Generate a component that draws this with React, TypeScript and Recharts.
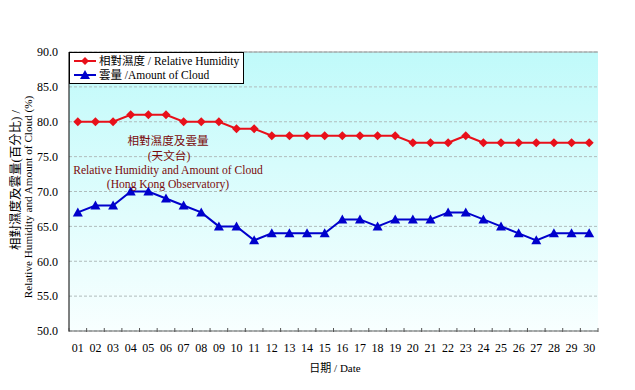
import { LineChart, Line, XAxis, YAxis, CartesianGrid, Legend, ReferenceLine } from 'recharts';

const days = [
  '01', '02', '03', '04', '05', '06', '07', '08', '09', '10',
  '11', '12', '13', '14', '15', '16', '17', '18', '19', '20',
  '21', '22', '23', '24', '25', '26', '27', '28', '29', '30',
];
const humidity = [
  80, 80, 80, 81, 81, 81, 80, 80, 80, 79,
  79, 78, 78, 78, 78, 78, 78, 78, 78, 77,
  77, 77, 78, 77, 77, 77, 77, 77, 77, 77,
];
const cloud = [
  67, 68, 68, 70, 70, 69, 68, 67, 65, 65,
  63, 64, 64, 64, 64, 66, 66, 65, 66, 66,
  66, 67, 67, 66, 65, 64, 63, 64, 64, 64,
];
const yTicks = [50, 55, 60, 65, 70, 75, 80, 85, 90];

const data = days.map((day, i) => ({ day, humidity: humidity[i], cloud: cloud[i] }));

const SERIF = "'Liberation Serif', 'Times New Roman', 'Noto Sans CJK TC', serif";
const RED = '#e8101a';
const BLUE = '#0000cc';
const NOTE = '#7a0a0a';

const diamondPath = (cx: number, cy: number, r = 4.5) =>
  `M${cx},${cy - r} L${cx + r},${cy} L${cx},${cy + r} L${cx - r},${cy} Z`;
const trianglePath = (cx: number, cy: number) =>
  `M${cx},${cy - 5} L${cx + 5},${cy + 4} L${cx - 5},${cy + 4} Z`;

const Diamond = (props: any) => {
  const { cx, cy, index } = props;
  if (cx == null || cy == null) return <g key={index} />;
  return <path key={index} d={diamondPath(cx, cy)} fill={RED} />;
};

const Triangle = (props: any) => {
  const { cx, cy, index } = props;
  if (cx == null || cy == null) return <g key={index} />;
  return <path key={index} d={trianglePath(cx, cy)} fill={BLUE} />;
};

// date label plus small tick marks on the category boundaries
const DateTick = (props: any) => {
  const { x, y, payload, index } = props;
  const half = payload?.offset || 8.8;
  return (
    <g>
      <line x1={x - half} x2={x - half} y1={y - 3} y2={y + 1} stroke="#555" />
      {index === days.length - 1 && (
        <line x1={x + half} x2={x + half} y1={y - 3} y2={y + 1} stroke="#555" />
      )}
      <text x={x} y={y + 21} textAnchor="middle" fontFamily={SERIF} fontSize={12} fill="#000">
        {payload.value}
      </text>
    </g>
  );
};

const LegendBox = () => (
  <div
    style={{
      background: '#fff',
      border: '1px solid #000',
      padding: '1px 4px 1px 3px',
      fontFamily: SERIF,
      fontSize: 11.5,
      lineHeight: '14px',
      color: '#000',
      whiteSpace: 'nowrap',
    }}
  >
    <div style={{ display: 'flex', alignItems: 'center' }}>
      <svg width={24} height={12} style={{ marginRight: 2 }}>
        <line x1={1} x2={23} y1={6} y2={6} stroke={RED} strokeWidth={2} />
        <path d={diamondPath(12, 6, 4)} fill={RED} />
      </svg>
      <span>相對濕度 / Relative Humidity</span>
    </div>
    <div style={{ display: 'flex', alignItems: 'center' }}>
      <svg width={24} height={12} style={{ marginRight: 2 }}>
        <line x1={1} x2={23} y1={6} y2={6} stroke={BLUE} strokeWidth={2} />
        <path d={trianglePath(12, 6)} fill={BLUE} />
      </svg>
      <span>雲量 /Amount of Cloud</span>
    </div>
  </div>
);

export default function App() {
  return (
    <div style={{ position: 'absolute', top: 0, left: 0, width: 635, height: 390, background: '#fff' }}>
      <LineChart
        width={635}
        height={390}
        data={data}
        margin={{ top: 52, right: 37, bottom: 29, left: 19 }}
      >
        <defs>
          <linearGradient id="plotBg" x1="0" y1="0" x2="0" y2="1">
            <stop offset="0%" stopColor="#c0fafa" />
            <stop offset="100%" stopColor="#f8ffff" />
          </linearGradient>
        </defs>
        <CartesianGrid
          vertical={false}
          stroke="#b0bcbc"
          strokeDasharray="3 2"
          fill="url(#plotBg)"
        />
        <ReferenceLine y={90} stroke="#9a9a9a" />
        <XAxis
          dataKey="day"
          scale="band"
          height={30}
          interval={0}
          tickSize={0}
          tickMargin={0}
          tickLine={false}
          axisLine={{ stroke: '#666' }}
          tick={<DateTick />}
        />
        <YAxis
          domain={[50, 90]}
          ticks={yTicks}
          width={50}
          tickLine={false}
          tickSize={4}
          tickMargin={7}
          axisLine={{ stroke: '#000' }}
          tickFormatter={(v: number) => v.toFixed(1)}
          tick={{ fontFamily: SERIF, fontSize: 12, fill: '#000' }}
        />
        <YAxis
          yAxisId="right"
          orientation="right"
          width={0}
          tick={false}
          tickLine={false}
          axisLine={{ stroke: '#9a9a9a' }}
        />
        <Legend
          layout="vertical"
          align="center"
          verticalAlign="middle"
          content={<LegendBox />}
          wrapperStyle={{ top: 52, left: 69, width: 'auto', height: 'auto' }}
        />
        <Line
          dataKey="humidity"
          stroke={RED}
          strokeWidth={2}
          dot={<Diamond />}
          activeDot={false}
          isAnimationActive={false}
        />
        <Line
          dataKey="cloud"
          stroke={BLUE}
          strokeWidth={2}
          dot={<Triangle />}
          activeDot={false}
          isAnimationActive={false}
        />
      </LineChart>
      <svg
        width={635}
        height={390}
        style={{ position: 'absolute', top: 0, left: 0, pointerEvents: 'none' }}
        fontFamily={SERIF}
      >
        <g fill={NOTE} fontSize={11.6} textAnchor="middle">
          <text x={168} y={145}>相對濕度及雲量</text>
          <text x={169} y={160}>(天文台)</text>
          <text x={168} y={174}>Relative Humidity and Amount of Cloud</text>
          <text x={168} y={188}>(Hong Kong Observatory)</text>
        </g>
        <text x={20} y={180} transform="rotate(-90 20 180)" textAnchor="middle" fontSize={12.5} fill="#000">
          相對濕度及雲量(百分比) /
        </text>
        <text x={32} y={197} transform="rotate(-90 32 197)" textAnchor="middle" fontSize={11.2} fill="#000">
          Relative Humidity and Amount of Cloud (%)
        </text>
        <text x={335} y={372} textAnchor="middle" fontSize={11} fill="#000">
          日期 / Date
        </text>
      </svg>
    </div>
  );
}
